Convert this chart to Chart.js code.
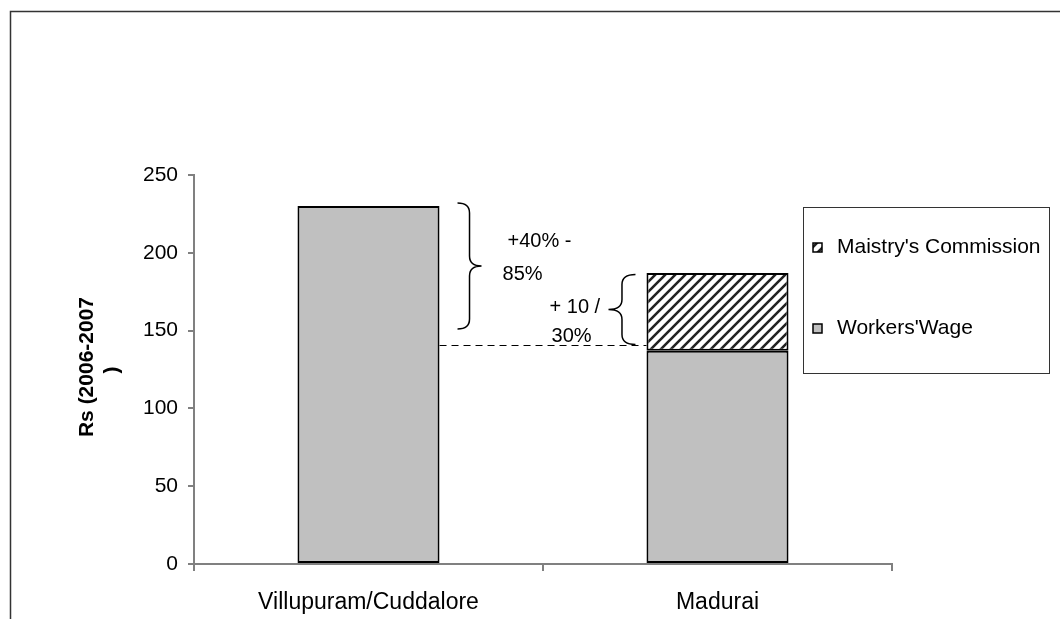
<!DOCTYPE html>
<html>
<head>
<meta charset="utf-8">
<script src="https://cdn.jsdelivr.net/npm/chart.js@4.4.1/dist/chart.umd.min.js"></script>
<style>
  html, body { margin: 0; padding: 0; background: #fff; }
  #c { display: block; }
</style>
</head>
<body>
<canvas id="c" width="1060" height="619"></canvas>
<script>
// ---- data ----
const categories = ['Villupuram/Cuddalore', 'Madurai'];
const workersWage = [230, 137];
const maistryCommission = [null, 50];
const yTicks = [0, 50, 100, 150, 200, 250];
const yTitleLines = ['Rs (2006-2007', ')'];
const seriesNames = ["Workers'Wage", "Maistry's Commission"];
const annotationLabels = ['+40% -', '85%', '+ 10 /', '30%'];
const referenceLevel = [141];          // dashed reference line value
const bigBraceRange = [232, 151];      // values spanned by the large brace
const smallBraceRange = [186, 141];    // values spanned by the small brace
const labelLevels = [207, 186, 165, 146];

const FONT = '"Liberation Sans", Arial, sans-serif';

// hatch pattern
function makeHatch() {
  const s = 10;
  const c = document.createElement('canvas');
  c.width = s; c.height = s;
  const g = c.getContext('2d');
  g.fillStyle = '#fff';
  g.fillRect(0, 0, s, s);
  g.strokeStyle = '#222';
  g.lineWidth = 2.6;
  g.beginPath();
  g.moveTo(-2, s + 2); g.lineTo(s + 2, -2);
  g.moveTo(-2, 2); g.lineTo(2, -2);
  g.moveTo(s - 2, s + 2); g.lineTo(s + 2, s - 2);
  g.stroke();
  return document.getElementById('c').getContext('2d').createPattern(c, 'repeat');
}
const hatch = makeHatch();

function drawBrace(ctx, xFlat, yTop, yBot, w, dir) {
  const xSpine = xFlat + dir * w / 2;
  const xTip = xFlat + dir * w;
  const yMid = (yTop + yBot) / 2;
  const r = 10;
  ctx.beginPath();
  ctx.moveTo(xFlat, yTop);
  ctx.quadraticCurveTo(xSpine, yTop, xSpine, yTop + r);
  ctx.lineTo(xSpine, yMid - r);
  ctx.quadraticCurveTo(xSpine, yMid, xTip, yMid);
  ctx.quadraticCurveTo(xSpine, yMid, xSpine, yMid + r);
  ctx.lineTo(xSpine, yBot - r);
  ctx.quadraticCurveTo(xSpine, yBot, xFlat, yBot);
  ctx.stroke();
}

const decor = {
  id: 'decor',
  beforeDraw(chart) {
    const ctx = chart.ctx;
    ctx.save();
    ctx.fillStyle = '#fff';
    ctx.fillRect(0, 0, chart.width, chart.height);
    ctx.strokeStyle = '#333';
    ctx.lineWidth = 1.5;
    ctx.beginPath();
    ctx.moveTo(10.5, chart.height);
    ctx.lineTo(10.5, 11.5);
    ctx.lineTo(chart.width, 11.5);
    ctx.stroke();
    ctx.restore();
  },
  afterDraw(chart) {
    const ctx = chart.ctx;
    const y = chart.scales.y;
    const m0 = chart.getDatasetMeta(0);
    const bar0 = m0.data[0], bar1 = m0.data[1];
    const r0 = bar0.x + bar0.width / 2;
    const l1 = bar1.x - bar1.width / 2;
    ctx.save();
    // dashed reference line
    ctx.strokeStyle = '#000';
    ctx.lineWidth = 1;
    ctx.setLineDash([7, 5]);
    const yr = Math.round(y.getPixelForValue(referenceLevel[0])) + 0.5;
    ctx.beginPath();
    ctx.moveTo(r0, yr);
    ctx.lineTo(l1, yr);
    ctx.stroke();
    ctx.setLineDash([]);
    // braces
    ctx.lineWidth = 1.5;
    drawBrace(ctx, r0 + 18, y.getPixelForValue(bigBraceRange[0]), y.getPixelForValue(bigBraceRange[1]), 24, 1);
    drawBrace(ctx, l1 - 11, y.getPixelForValue(smallBraceRange[0]), y.getPixelForValue(smallBraceRange[1]), 27, -1);
    // labels
    ctx.fillStyle = '#000';
    ctx.font = '20px ' + FONT;
    ctx.textAlign = 'left';
    ctx.textBaseline = 'middle';
    const xs = [r0 + 68, r0 + 63, r0 + 110, r0 + 112];
    annotationLabels.forEach((t, i) => {
      ctx.fillText(t, xs[i], y.getPixelForValue(labelLevels[i]));
    });
    // y axis title
    ctx.font = 'bold 21px ' + FONT;
    ctx.textAlign = 'center';
    ctx.save();
    ctx.translate(87, 367);
    ctx.rotate(-Math.PI / 2);
    ctx.fillText(yTitleLines[0], 0, 0);
    ctx.restore();
    ctx.save();
    ctx.translate(112, 370);
    ctx.rotate(-Math.PI / 2);
    ctx.fillText(yTitleLines[1], 0, 0);
    ctx.restore();
    // legend box
    ctx.strokeStyle = '#333';
    ctx.lineWidth = 1;
    ctx.strokeRect(803.5, 207.5, 246, 166);
    const items = [
      { name: seriesNames[1], fill: hatch, cy: 247 },
      { name: seriesNames[0], fill: '#c0c0c0', cy: 328 }
    ];
    ctx.font = '21px ' + FONT;
    ctx.textAlign = 'left';
    items.forEach(it => {
      ctx.fillStyle = it.fill;
      ctx.fillRect(813, it.cy - 4, 9, 9);
      ctx.strokeStyle = '#000';
      ctx.lineWidth = 1.5;
      ctx.strokeRect(813, it.cy - 4, 9, 9);
      ctx.fillStyle = '#000';
      ctx.fillText(it.name, 837, it.cy);
    });
    ctx.restore();
  }
};

new Chart(document.getElementById('c'), {
  type: 'bar',
  data: {
    labels: categories,
    datasets: [
      {
        label: seriesNames[0],
        data: workersWage,
        backgroundColor: '#c0c0c0',
        borderColor: '#000',
        borderWidth: 2,
        borderSkipped: false,
        categoryPercentage: 1,
        barPercentage: 0.407
      },
      {
        label: seriesNames[1],
        data: maistryCommission,
        backgroundColor: hatch,
        borderColor: '#000',
        borderWidth: 2,
        borderSkipped: false,
        categoryPercentage: 1,
        barPercentage: 0.407
      }
    ]
  },
  options: {
    responsive: false,
    animation: false,
    devicePixelRatio: 1,
    layout: { padding: { left: 0, right: 168, top: 175, bottom: 0 } },
    plugins: { legend: { display: false }, tooltip: { enabled: false } },
    scales: {
      x: {
        stacked: true,
        grid: { offset: true, drawOnChartArea: false, drawTicks: true, tickLength: 7, color: '#808080', lineWidth: 2 },
        border: { color: '#808080', width: 2 },
        ticks: { color: '#000', font: { family: FONT, size: 23 }, padding: 18 },
        afterFit(s) { s.height = 55; }
      },
      y: {
        stacked: true,
        min: 0, max: 250,
        afterBuildTicks(s) { s.ticks = yTicks.map(v => ({ value: v })); },
        grid: { drawOnChartArea: false, drawTicks: true, tickLength: 6, color: '#808080', lineWidth: 2 },
        border: { color: '#808080', width: 2 },
        ticks: { color: '#000', font: { family: FONT, size: 21 }, padding: 10 },
        afterFit(s) { s.width = 194; }
      }
    }
  },
  plugins: [decor]
});
</script>
</body>
</html>
